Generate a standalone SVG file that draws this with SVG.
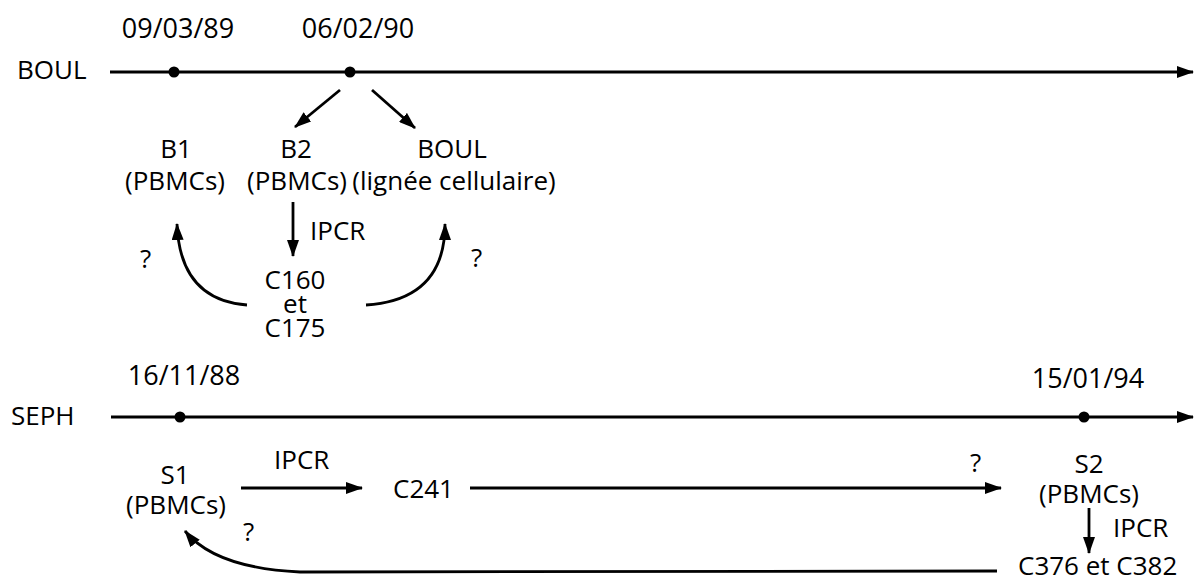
<svg xmlns="http://www.w3.org/2000/svg" width="1194" height="581" viewBox="0 0 1194 581">
<style>
text{font-family:"Open Sans","Liberation Sans",sans-serif;font-size:26px;fill:#000}
.m{text-anchor:middle}
.d{font-size:27px}
.ln{stroke:#000;stroke-width:2.8;fill:none}
.ar{stroke:#000;stroke-width:2.8;fill:none;marker-end:url(#ah)}
</style>
<defs>
<marker id="ah" markerUnits="userSpaceOnUse" markerWidth="17" markerHeight="12" refX="16" refY="6" orient="auto">
<path d="M0,0 L17,6 L0,12 Z" fill="#000"/>
</marker>
</defs>
<g id="timeline-boul">
<text x="17" y="79">BOUL</text>
<line class="ar" x1="110" y1="72" x2="1193" y2="72"/>
<circle cx="174" cy="72" r="5.5"/>
<circle cx="350" cy="72" r="5.5"/>
<text class="m d" x="178" y="38">09/03/89</text>
<text class="m d" x="358" y="38">06/02/90</text>
</g>
<g id="timeline-seph">
<text x="11" y="425">SEPH</text>
<line class="ar" x1="111" y1="417" x2="1193" y2="417"/>
<circle cx="180" cy="417" r="5.5"/>
<circle cx="1084" cy="417" r="5.5"/>
<text class="m d" x="184" y="385">16/11/88</text>
<text class="m d" x="1088" y="388">15/01/94</text>
</g>
<g id="b1">
<text class="m" x="176" y="158">B1</text>
<text class="m" x="175" y="190">(PBMCs)</text>
</g>
<g id="b2">
<text class="m" x="296" y="158">B2</text>
<text class="m" x="297" y="190">(PBMCs)</text>
</g>
<g id="boul-line">
<text class="m" x="452" y="158">BOUL</text>
<text class="m" x="454" y="190">(lignée cellulaire)</text>
</g>
<g id="c160">
<text class="m" x="295" y="289">C160</text>
<text class="m" x="295" y="313">et</text>
<text class="m" x="295" y="337">C175</text>
</g>
<g id="s1">
<text class="m" x="175" y="484">S1</text>
<text class="m" x="176" y="514">(PBMCs)</text>
</g>
<g id="c241">
<text x="393" y="498">C241</text>
</g>
<g id="s2">
<text class="m" x="1089" y="473">S2</text>
<text class="m" x="1089" y="503">(PBMCs)</text>
</g>
<g id="c376">
<text x="1018" y="575">C376 et C382</text>
</g>
<g id="connectors">
<line class="ar" x1="340" y1="90" x2="295" y2="127"/>
<line class="ar" x1="372" y1="90" x2="415" y2="128"/>
<line class="ar" x1="293" y1="202" x2="293" y2="256"/>
<text x="310" y="240">IPCR</text>
<path class="ar" d="M247,305 Q180,300 177,224"/>
<path class="ar" d="M366,305 Q445,300 445,224"/>
<text x="140" y="268">?</text>
<text x="471" y="267">?</text>
<line class="ar" x1="241" y1="488" x2="362" y2="488"/>
<text x="274" y="469">IPCR</text>
<line class="ar" x1="470" y1="488" x2="1001" y2="488"/>
<text x="970" y="472">?</text>
<line class="ar" x1="1089" y1="508" x2="1089" y2="553"/>
<text x="1113" y="537">IPCR</text>
<path class="ar" d="M997,571 L300,572 Q215,568 185,531"/>
<text x="243" y="541">?</text>
</g>
</svg>
